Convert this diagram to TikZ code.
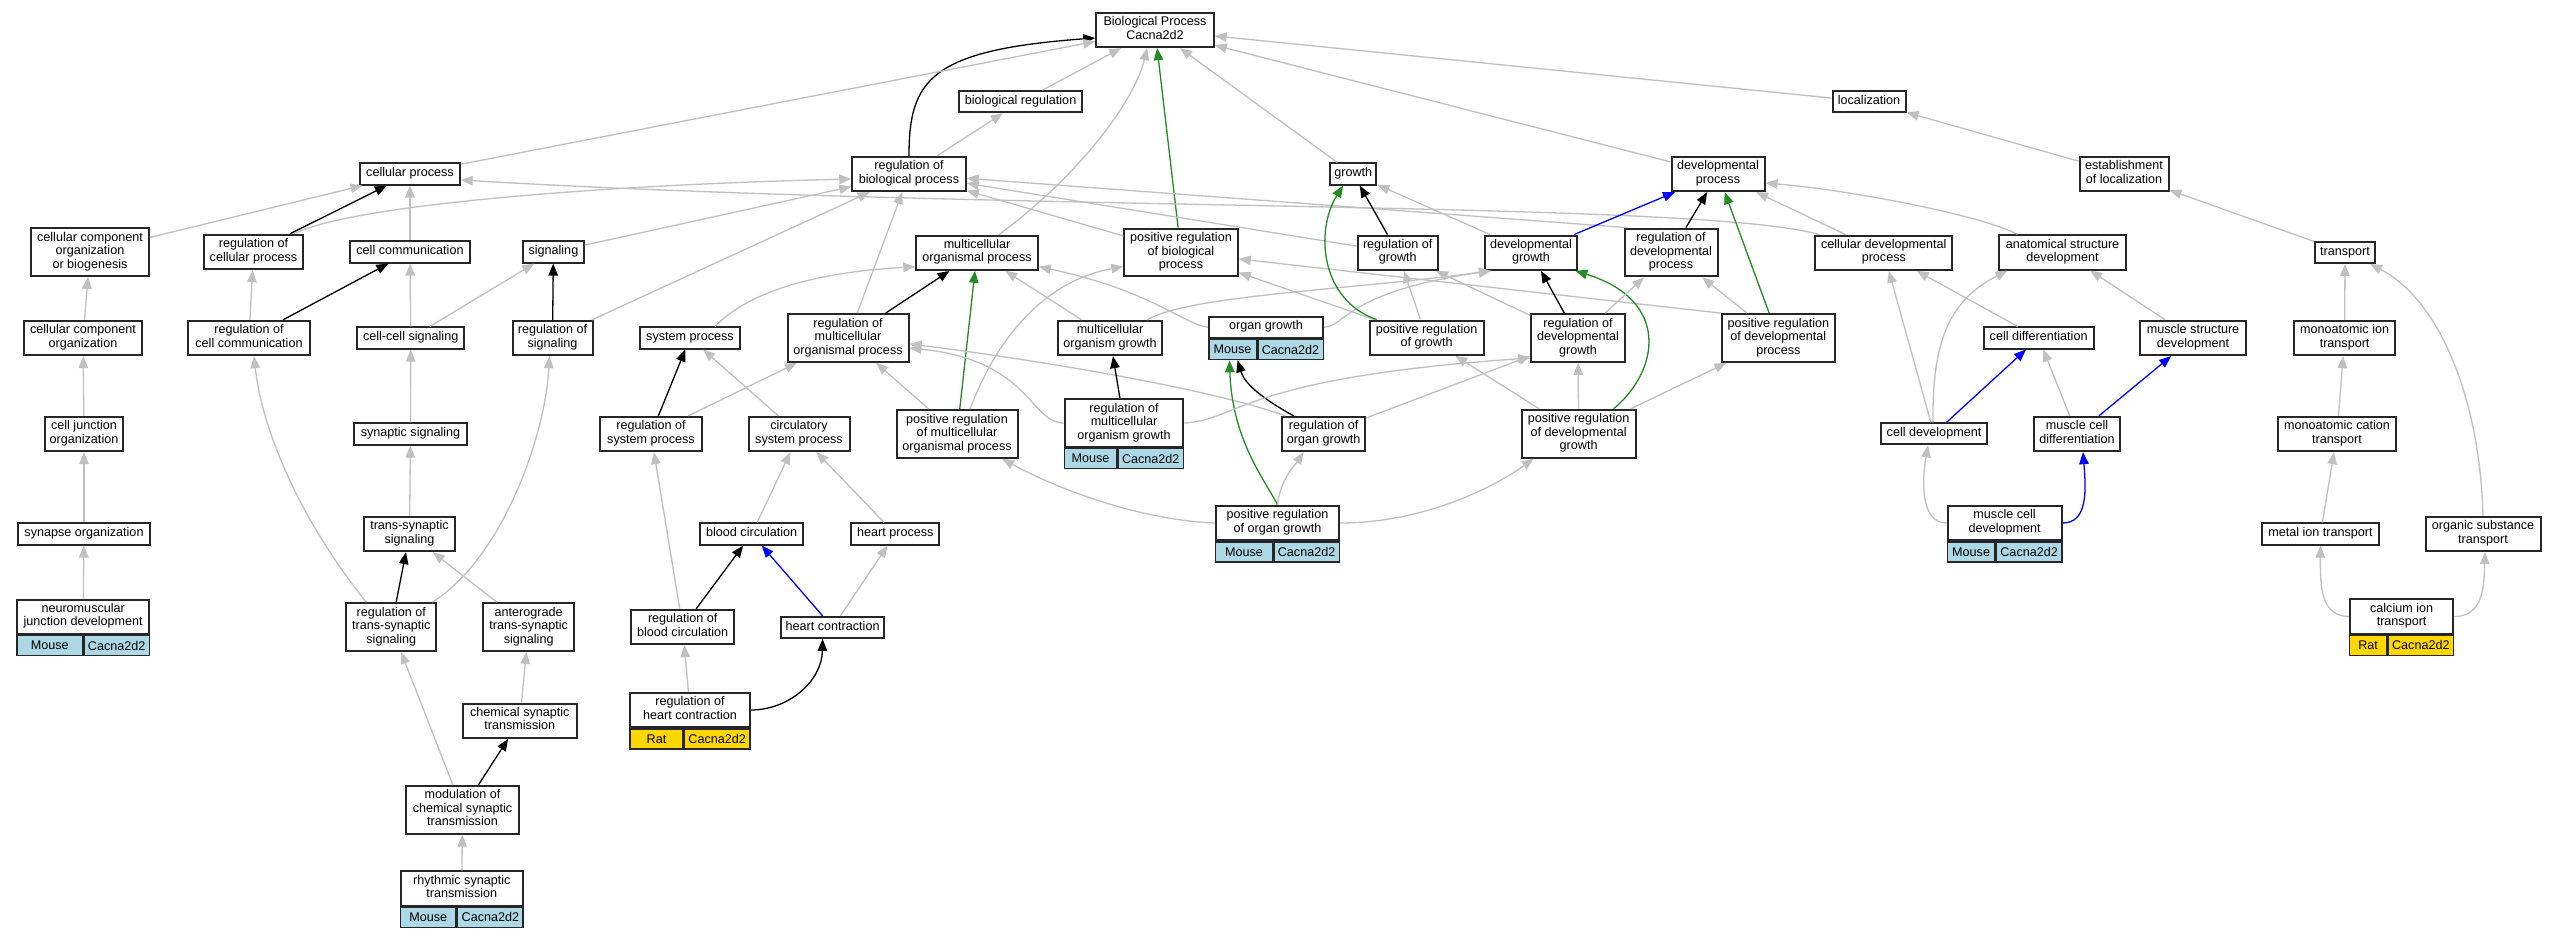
\documentclass[tikz,border=0pt]{standalone}
\usepackage{fontspec}
\setmainfont{Liberation Sans}
\usetikzlibrary{arrows.meta}
\definecolor{edgegray}{RGB}{192,192,192}
\definecolor{forest}{RGB}{34,139,34}
\definecolor{mouseblue}{RGB}{173,216,230}
\definecolor{ratgold}{RGB}{255,215,0}
% species row under an annotated term
\newcommand{\genebar}[4]{%
  \node[cell, fill=#4, minimum width=#3pt-1.5pt, anchor=north west] (#1-s) at (#1.south west) {#2};
  \node[cell, fill=#4, minimum width=65.5pt, anchor=north west] (#1-g) at (#1-s.north east) {Cacna2d2};}
\begin{document}
\begin{tikzpicture}[x=1pt,y=-1pt,>={Triangle[length=12pt,width=9.5pt]},font=\fontsize{12.6}{13.5}\selectfont,
  term/.style={draw=black!85,line width=2pt,fill=white,align=center,inner xsep=2pt,inner ysep=3.8pt,
    execute at begin node=\strut,execute at end node=\strut},
  cell/.style={draw=black!85,line width=1.5pt,inner sep=0pt,minimum height=20pt},
  isa/.style={->,draw=edgegray,line width=1.3pt},
  regulates/.style={->,draw=black,line width=1.3pt},
  posreg/.style={->,draw=forest,line width=1.3pt},
  partof/.style={->,draw=blue,line width=1.3pt}]
\useasboundingbox[fill=white] (0,0) rectangle (2557,939);

% terms, row by row
\node[term,minimum width=117.5pt] (bp) at (1155,30) {Biological Process\\Cacna2d2};
\node[term,minimum width=122.5pt] (bioreg) at (1020.6,101.8) {biological regulation};
\node[term,minimum width=73pt] (loc) at (1869,101.8) {localization};

\node[term,minimum width=99.5pt] (cellproc) at (410,174) {cellular process};
\node[term,minimum width=113.5pt] (regbp) at (909,174) {regulation of\\biological process};
\node[term,minimum width=46.5pt] (growth) at (1353.2,174) {growth};
\node[term,minimum width=93pt] (devproc) at (1718,174) {developmental\\process};
\node[term,minimum width=89pt] (estloc) at (2124,174) {establishment\\of localization};

\node[term,minimum width=117.5pt] (ccob) at (90,252) {cellular component\\organization\\or biogenesis};
\node[term,minimum width=99.5pt] (regcp) at (253.5,252) {regulation of\\cellular process};
\node[term,minimum width=120.5pt] (cellcomm) at (410,252) {cell communication};
\node[term,minimum width=60.5pt] (signaling) at (553.4,252) {signaling};
\node[term,minimum width=121.5pt] (mop) at (977,252.7) {multicellular\\organismal process};
\node[term,minimum width=113.5pt] (prbp) at (1181,252.5) {positive regulation\\of biological\\process};
\node[term,minimum width=80pt] (reggrowth) at (1397.7,252.7) {regulation of\\growth};
\node[term,minimum width=92.7pt] (devgrowth) at (1531,252.7) {developmental\\growth};
\node[term,minimum width=93pt] (regdp) at (1671,252.5) {regulation of\\developmental\\process};
\node[term,minimum width=137.3pt] (cdp) at (1883.8,252.7) {cellular developmental\\process};
\node[term,minimum width=127pt] (asd) at (2062.5,252.4) {anatomical structure\\development};
\node[term,minimum width=59.8pt] (transport) at (2345,252.4) {transport};

\node[term,minimum width=117.5pt] (cco) at (83,338) {cellular component\\organization};
\node[term,minimum width=121.5pt] (regcc) at (249,338) {regulation of\\cell communication};
\node[term,minimum width=107.5pt] (ccsig) at (410.7,338) {cell-cell signaling};
\node[term,minimum width=80pt] (regsig) at (552.5,338) {regulation of\\signaling};
\node[term,minimum width=100.5pt] (sysproc) at (690,338) {system process};
\node[term,minimum width=121pt] (rmop) at (848,338) {regulation of\\multicellular\\organismal process};
\node[term,minimum width=104pt] (mog) at (1110,338) {multicellular\\organism growth};
\node[term,minimum width=114pt] (organgrowth) at (1266,327.2) {organ growth};
\node[term,minimum width=113.8pt] (prg) at (1426.6,337.7) {positive regulation\\of growth};
\node[term,minimum width=93.5pt] (rdg) at (1578,338) {regulation of\\developmental\\growth};
\node[term,minimum width=113.3pt] (prdp) at (1778.3,338) {positive regulation\\of developmental\\process};
\node[term,minimum width=110.2pt] (celldiff) at (2038.6,338) {cell differentiation};
\node[term,minimum width=106pt] (msd) at (2193,338) {muscle structure\\development};
\node[term,minimum width=101.3pt] (mit) at (2344.6,338) {monoatomic ion\\transport};

\node[term,minimum width=78.5pt] (cjo) at (84,434) {cell junction\\organization};
\node[term,minimum width=113pt] (synsig) at (410.5,434) {synaptic signaling};
\node[term,minimum width=102pt] (rsp) at (651,434) {regulation of\\system process};
\node[term,minimum width=101pt] (csp) at (799,434) {circulatory\\system process};
\node[term,minimum width=121pt] (prmop) at (957,434) {positive regulation\\of multicellular\\organismal process};
\node[term,minimum width=118.5pt] (rmog) at (1124,423) {regulation of\\multicellular\\organism growth};
\node[term,minimum width=82.7pt] (rog) at (1323.6,434) {regulation of\\organ growth};
\node[term,minimum width=113.8pt] (prdg) at (1578.6,433.7) {positive regulation\\of developmental\\growth};
\node[term,minimum width=106.2pt] (celldev) at (1934,433.8) {cell development};
\node[term,minimum width=86.5pt] (mcdiff) at (2077,434) {muscle cell\\differentiation};
\node[term,minimum width=118.5pt] (mct) at (2337,434) {monoatomic cation\\transport};

\node[term,minimum width=131.5pt] (synorg) at (84,534) {synapse organization};
\node[term,minimum width=90.5pt] (tss) at (409.5,534) {trans-synaptic\\signaling};
\node[term,minimum width=103pt] (bloodcirc) at (751.7,534) {blood circulation};
\node[term,minimum width=88.3pt] (heartproc) at (895.3,534) {heart process};
\node[term,minimum width=123.2pt] (prog) at (1277.5,523) {positive regulation\\of organ growth};
\node[term,minimum width=114pt] (mcdev) at (2004.6,523) {muscle cell\\development};
\node[term,minimum width=117pt] (mitrans) at (2320.5,534) {metal ion transport};
\node[term,minimum width=115pt] (ost) at (2483,534) {organic substance\\transport};

\node[term,minimum width=132pt] (nmj) at (83.2,616.7) {neuromuscular\\junction development};
\node[term,minimum width=90pt] (rtss) at (391.3,627) {regulation of\\trans-synaptic\\signaling};
\node[term,minimum width=90.5pt] (atss) at (528.7,627) {anterograde\\trans-synaptic\\signaling};
\node[term,minimum width=103.2pt] (rbc) at (682.7,627) {regulation of\\blood circulation};
\node[term,minimum width=103.5pt] (heartcon) at (832.6,627.4) {heart contraction};
\node[term,minimum width=103.4pt] (cit) at (2401.6,616.6) {calcium ion\\transport};

\node[term,minimum width=119.4pt] (rhc) at (690,710) {regulation of\\heart contraction};
\node[term,minimum width=113.5pt] (cst) at (519.8,720.7) {chemical synaptic\\transmission};
\node[term,minimum width=113.5pt] (mcst) at (462.5,809.7) {modulation of\\chemical synaptic\\transmission};
\node[term,minimum width=122.3pt] (rst) at (461.8,888.5) {rhythmic synaptic\\transmission};

% species rows
\genebar{organgrowth}{Mouse}{49}{mouseblue}
\genebar{rmog}{Mouse}{53.5}{mouseblue}
\genebar{prog}{Mouse}{58.2}{mouseblue}
\genebar{mcdev}{Mouse}{49}{mouseblue}
\genebar{nmj}{Mouse}{67}{mouseblue}
\genebar{rst}{Mouse}{57.3}{mouseblue}
\genebar{cit}{Rat}{38.4}{ratgold}
\genebar{rhc}{Rat}{54.4}{ratgold}

% edges into the root
\draw[regulates] (regbp.north) .. controls (909,80) and (930,50) .. ([yshift=-8pt]bp.west);
\draw[isa] (cellproc) -- (bp);
\draw[isa] (bioreg) -- (bp);
\draw[isa] ([xshift=22pt]mop.north) .. controls (1080,175) and (1135,100) .. ([xshift=-8pt]bp.south);
\draw[posreg] (prbp) -- (bp);
\draw[isa] (growth) -- (bp);
\draw[isa] (devproc) -- (bp);
\draw[isa] (loc) -- (bp);
\draw[isa] (regbp) -- (bioreg);
\draw[isa] (estloc) -- (loc);

% cellular process branch
\draw[isa] (ccob) -- (cellproc);
\draw[regulates] (regcp) -- (cellproc);
\draw[isa] (cellcomm) -- (cellproc);
\draw[isa] ([xshift=5pt]cdp.north west) .. controls (1700,200) and (1000,212) .. ([yshift=-6pt]cellproc.east);
\draw[isa] ([xshift=-10pt]regcp.north east) .. controls (350,205) and (600,185) .. ([yshift=-5pt]regbp.west);
\draw[isa] (signaling) -- (regbp);
\draw[isa] (regsig) -- (regbp);
\draw[isa] (rmop) -- (regbp);
\draw[isa] (prbp) -- (regbp);
\draw[isa] (reggrowth) -- (regbp);
\draw[isa] ([xshift=4pt]regdp.north west) -- (regbp);
\draw[isa] (cco) -- (ccob);
\draw[isa] (regcc) -- (regcp);
\draw[regulates] (regcc) -- (cellcomm);
\draw[isa] (ccsig) -- (cellcomm);
\draw[isa] (ccsig) -- (signaling);
\draw[regulates] (regsig) -- (signaling);
\draw[isa] (cjo) -- (cco);
\draw[isa] (synorg) -- (cjo);
\draw[isa] (nmj) -- (synorg);
\draw[isa] (synsig) -- (ccsig);
\draw[isa] (tss) -- (synsig);
\draw[isa] ([xshift=-25pt]rtss.north) .. controls (300,520) and (262,430) .. ([xshift=5pt]regcc.south);
\draw[isa] ([xshift=-5pt]rtss.north east) .. controls (500,560) and (545,440) .. ([xshift=-3pt]regsig.south);
\draw[regulates] (rtss) -- (tss);
\draw[isa] (atss) -- (tss);
\draw[isa] (mcst) -- (rtss);
\draw[isa] (cst) -- (atss);
\draw[regulates] (mcst) -- (cst);
\draw[isa] (rst) -- (mcst);

% multicellular and circulation
\draw[regulates] (rmop) -- (mop);
\draw[posreg] (prmop) -- (mop);
\draw[isa] ([xshift=25pt]sysproc.north) .. controls (750,290) and (820,272) .. ([yshift=-14pt]mop.west);
\draw[isa] (mog) -- (mop);
\draw[isa] (organgrowth.west) .. controls (1185,325) and (1150,290) .. ([yshift=-14pt]mop.east);
\draw[isa] ([xshift=13pt]prmop.north) .. controls (1000,330) and (1050,280) .. ([yshift=-14pt]prbp.west);
\draw[isa] (prg) -- (prbp);
\draw[isa] (prdp.north west) -- (prbp);
\draw[regulates] (rsp) -- (sysproc);
\draw[isa] (csp) -- (sysproc);
\draw[isa] (rsp) -- (rmop);
\draw[isa] (prmop) -- (rmop);
\draw[isa] (rmog.west) .. controls (1030,423) and (1030,360) .. ([yshift=-10pt]rmop.east);
\draw[isa] ([xshift=4pt]rog.north west) .. controls (1200,385) and (1000,355) .. ([yshift=-6pt]rmop.east);
\draw[regulates] (rmog) -- (mog);
\draw[isa] (bloodcirc) -- (csp);
\draw[isa] (heartproc) -- (csp);
\draw[regulates] (rbc) -- (bloodcirc);
\draw[partof] (heartcon) -- (bloodcirc);
\draw[isa] (heartcon) -- (heartproc);
\draw[isa] (rbc) -- (rsp);
\draw[isa] (rhc) -- (rbc);
\draw[regulates] (rhc.east) .. controls (790,710) and (822,680) .. ([xshift=-10pt]heartcon.south);

% growth and development
\draw[regulates] ([xshift=-30pt]rog.north) .. controls (1265,400) and (1245,385) .. ([xshift=5pt]organgrowth-s.south);
\draw[posreg] (prog.north) .. controls (1265,480) and (1232,440) .. ([xshift=-3pt]organgrowth-s.south);
\draw[isa] (prog.north) .. controls (1280,480) and (1295,465) .. ([xshift=-20pt]rog.south);
\draw[isa] (prog.west) .. controls (1140,520) and (1060,490) .. ([xshift=45pt]prmop.south);
\draw[isa] (prog.east) .. controls (1420,523) and (1490,490) .. ([xshift=-45pt]prdg.south);
\draw[isa] ([xshift=37pt]mog.north) .. controls (1190,295) and (1350,290) .. ([xshift=-40pt]devgrowth.south);
\draw[isa] (organgrowth.east) .. controls (1345,327) and (1345,292) .. ([xshift=-40pt]devgrowth.south);
\draw[regulates] (reggrowth) -- (growth);
\draw[posreg] ([xshift=-50pt]prg.north) .. controls (1320,300) and (1315,230) .. ([xshift=-10pt]growth.south);
\draw[isa] (devgrowth) -- (growth);
\draw[partof] (devgrowth) -- (devproc);
\draw[regulates] (regdp) -- (devproc);
\draw[posreg] (prdp) -- (devproc);
\draw[isa] (cdp) -- (devproc);
\draw[isa] ([xshift=-45pt]asd.north) .. controls (1980,215) and (1850,190) .. ([yshift=-9pt]devproc.east);
\draw[isa] (prg) -- (reggrowth);
\draw[isa] (rdg) -- (reggrowth);
\draw[regulates] (rdg) -- (devgrowth);
\draw[posreg] ([xshift=35pt]prdg.north) .. controls (1660,370) and (1670,300) .. ([xshift=-3pt]devgrowth.south east);
\draw[isa] (rdg) -- (regdp);
\draw[isa] (prdp) -- (regdp);
\draw[isa] (prdg) -- (rdg);
\draw[isa] (rog) -- (rdg);
\draw[isa] (rmog.east) .. controls (1240,420) and (1240,378) .. ([yshift=-20pt]rdg.west);
\draw[isa] (prdg) -- (prg);
\draw[isa] (prdg) -- (prdp);

% cells and transport
\draw[isa] (celldev) -- (cdp);
\draw[isa] (celldiff) -- (cdp);
\draw[isa] ([xshift=-1pt]celldev.north) .. controls (1932,340) and (1950,300) .. ([xshift=-55pt]asd.south);
\draw[isa] (msd) -- (asd);
\draw[partof] (celldev) -- (celldiff);
\draw[isa] (mcdiff) -- (celldiff);
\draw[partof] (mcdiff) -- (msd);
\draw[isa] (mcdev.west) .. controls (1920,523) and (1922,480) .. ([xshift=-6pt]celldev.south);
\draw[partof] (mcdev.east) .. controls (2088,523) and (2086,490) .. ([xshift=6pt]mcdiff.south);
\draw[isa] (transport) -- (estloc);
\draw[isa] (mit) -- (transport);
\draw[isa] (ost.north) .. controls (2480,400) and (2440,300) .. ([xshift=25pt]transport.south);
\draw[isa] (mct) -- (mit);
\draw[isa] (mitrans) -- (mct);
\draw[isa] (cit.west) .. controls (2322,616) and (2320,590) .. (mitrans.south);
\draw[isa] (cit.east) .. controls (2482,616) and (2484,590) .. ([xshift=2pt]ost.south);
\end{tikzpicture}
\end{document}
